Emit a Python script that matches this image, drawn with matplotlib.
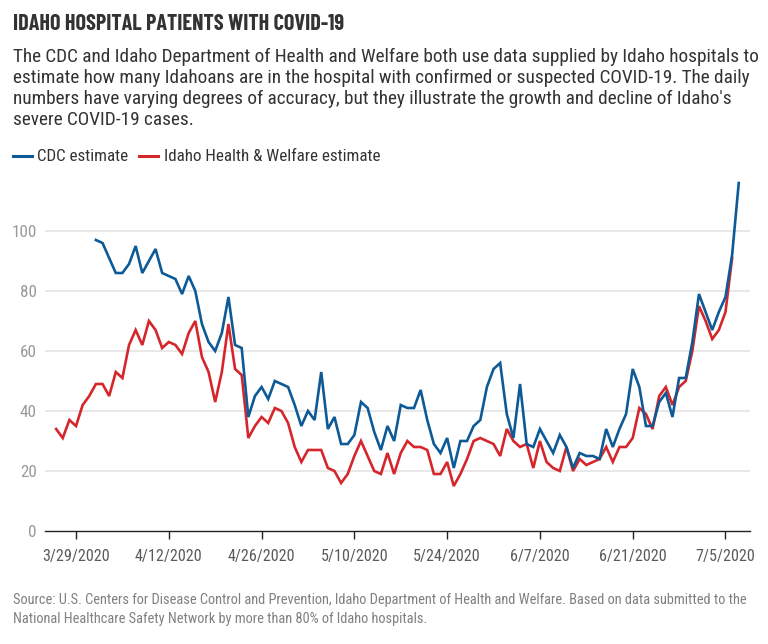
import matplotlib as mpl
mpl.use('Agg')
import matplotlib.pyplot as plt
import pandas as pd
from matplotlib import font_manager

# condensed sans, closest to the newspaper house font
names = {f.name for f in font_manager.fontManager.ttflist}
prefs = ['Roboto Condensed', 'Barlow Semi Condensed', 'Asap Condensed', 'Liberation Sans Narrow']
cond = next((n for n in prefs if n in names), 'DejaVu Sans')
title_font = next((n for n in ['Barlow Condensed', 'Roboto Condensed'] if n in names), cond)
plt.rcParams['font.family'] = [cond, 'DejaVu Sans']

# ---- data (daily values) ----
idhw_start = '2020-03-26'
idhw = [34, 31, 37, 35, 42, 45, 49, 49, 45, 53, 51, 62, 67, 62, 70, 67, 61, 63, 62, 59,
        66, 70, 58, 53, 43, 53, 69, 54, 52, 31, 35, 38, 36, 41, 40, 36, 28, 23, 27, 27,
        27, 21, 20, 16, 19, 25, 30, 25, 20, 19, 26, 19, 26, 30, 28, 28, 27, 19, 19, 23,
        15, 19, 24, 30, 31, 30, 29, 25, 34, 30, 28, 29, 21, 30, 23, 21, 20, 28, 20, 24,
        22, 23, 24, 28, 23, 28, 28, 31, 41, 39, 34, 45, 48, 42, 48, 50, 60, 75, 70, 64,
        67, 73, 91]

cdc_start = '2020-04-01'
cdc = [97, 96, 91, 86, 86, 89, 95, 86, 90, 94, 86, 85, 84, 79, 85, 80, 69, 63, 60, 66,
       78, 62, 61, 38, 45, 48, 44, 50, 49, 48, 42, 35, 40, 37, 53, 34, 38, 29, 29, 32,
       43, 41, 33, 27, 35, 30, 42, 41, 41, 47, 37, 29, 26, 31, 21, 30, 30, 35, 37, 48,
       54, 56, 39, 31, 49, 29, 28, 34, 30, 26, 32, 28, 21, 26, 25, 25, 24, 34, 28, 34,
       39, 54, 48, 35, 35, 43, 46, 38, 51, 51, 63, 79, 73, 67, 73, 78, 92, 116]

tick_dates = ['2020-03-29', '2020-04-12', '2020-04-26', '2020-05-10',
              '2020-05-24', '2020-06-07', '2020-06-21', '2020-07-05']
y_ticks = [0, 20, 40, 60, 80, 100]

title = 'IDAHO HOSPITAL PATIENTS WITH COVID-19'
desc = ["The CDC and Idaho Department of Health and Welfare both use data supplied by Idaho hospitals to",
        "estimate how many Idahoans are in the hospital with confirmed or suspected COVID-19. The daily",
        "numbers have varying degrees of accuracy, but they illustrate the growth and decline of Idaho's",
        "severe COVID-19 cases."]
source = ["Source: U.S. Centers for Disease Control and Prevention, Idaho Department of Health and Welfare. "
          "Based on data submitted to the",
          "National Healthcare Safety Network by more than 80% of Idaho hospitals."]

blue = '#0d5a96'
red = '#d5262c'

idhw_dates = pd.date_range(idhw_start, periods=len(idhw), freq='D')
cdc_dates = pd.date_range(cdc_start, periods=len(cdc), freq='D')
ticks = pd.to_datetime(tick_dates)

W, H = 768, 644
fig = plt.figure(figsize=(W / 100, H / 100), dpi=100)
renderer = fig.canvas.get_renderer()


def fit(txt, width):
    # shrink/grow a text so that it covers the given pixel width
    w = txt.get_window_extent(renderer).width
    txt.set_fontsize(txt.get_fontsize() * width / w)
    return txt.get_fontsize()


def px(x, y):
    return x / W, 1 - y / H


ax = fig.add_axes([45 / W, (H - 531) / H, 705 / W, 360 / H])

ax.plot(cdc_dates, cdc, color=blue, lw=1.9, solid_joinstyle='miter', zorder=3)
ax.plot(idhw_dates, idhw, color=red, lw=1.9, solid_joinstyle='miter', zorder=2)

t0 = pd.Timestamp('2020-03-29')
ax.set_xlim(t0 - pd.Timedelta(days=4.68), t0 + pd.Timedelta(days=101.7))
ax.set_ylim(0, 120)

ax.set_xticks(ticks)
ax.set_yticks(y_ticks)
ax.set_yticklabels([str(v) for v in y_ticks])

for s in ['top', 'right', 'left']:
    ax.spines[s].set_visible(False)
ax.spines['bottom'].set_color('#222222')
ax.spines['bottom'].set_linewidth(1.0)
ax.spines['bottom'].set_zorder(4)

for v in y_ticks[1:]:
    ax.axhline(v, color='#e6e6e6', lw=1.3, zorder=1)

# tick label sizes from measured widths in the reference
probe = fig.text(0, 0, '3/29/2020', fontsize=12)
xfs = fit(probe, 67)
probe.set_text('100')
probe.set_fontsize(12)
yfs = fit(probe, 25)
probe.remove()

ax.set_xticklabels([f'{d.month}/{d.day}/{d.year}' for d in ticks])
ax.tick_params(axis='x', length=6, width=1, color='#222222', labelsize=xfs,
               labelcolor='#5a5a5a', pad=7)
ax.tick_params(axis='y', length=0, labelsize=yfs, labelcolor='#9a9a9a', pad=6)

# header texts
t = fig.text(*px(13, 30), title, fontsize=18, fontweight='bold', color='#333333',
             ha='left', va='baseline', family=[title_font, 'DejaVu Sans'])
fit(t, 332)

dt = [fig.text(*px(13, 62 + 21 * i), line, fontsize=13, color='#333333',
               ha='left', va='baseline') for i, line in enumerate(desc)]
dfs = fit(dt[0], 744)
for d in dt[1:]:
    d.set_fontsize(dfs)

# legend
ly = 156
fig.add_artist(plt.Line2D([13 / W, 32 / W], [1 - ly / H] * 2, color=blue, lw=2.2))
l1 = fig.text(*px(37, 161), 'CDC estimate', fontsize=13, color='#333333', va='baseline')
lfs = fit(l1, 91)
fig.add_artist(plt.Line2D([139 / W, 158 / W], [1 - ly / H] * 2, color=red, lw=2.2))
fig.text(*px(164, 161), 'Idaho Health & Welfare estimate', fontsize=lfs, color='#333333',
         va='baseline')

st = [fig.text(*px(13, 604 + 18.5 * i), line, fontsize=10.5, color='#808080',
               ha='left', va='baseline') for i, line in enumerate(source)]
sfs = fit(st[0], 740)
st[1].set_fontsize(sfs)

fig.savefig('out.png', dpi=100)
